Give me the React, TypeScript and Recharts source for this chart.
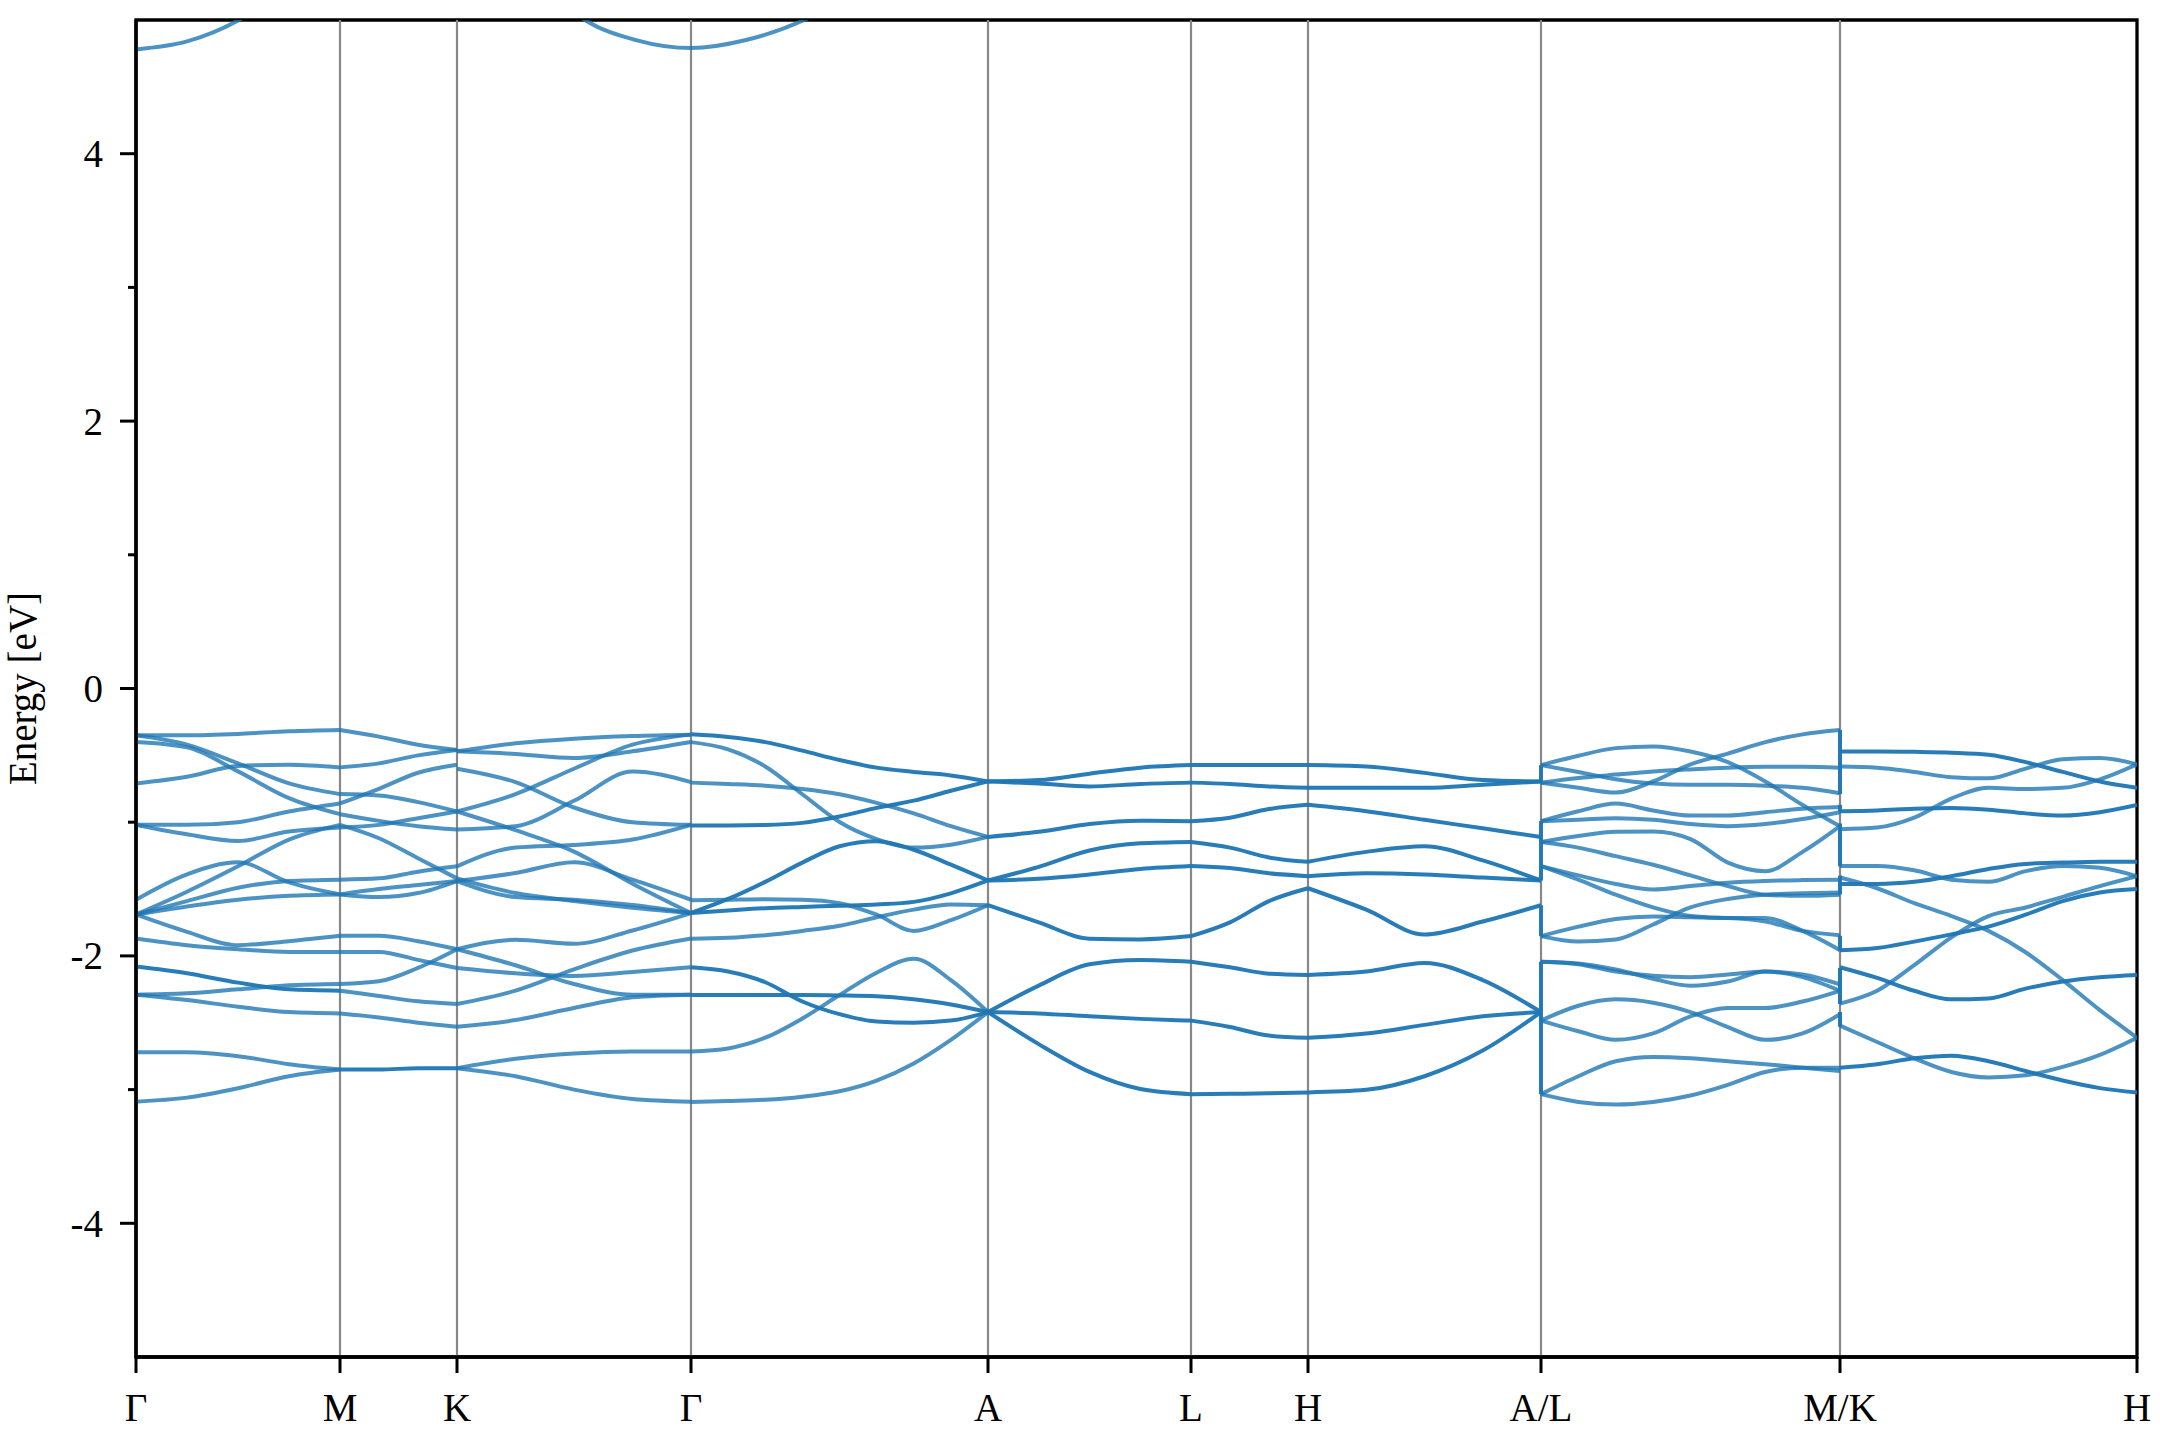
import React from 'react';
import { LineChart, Line, XAxis, YAxis, ReferenceLine, ReferenceArea } from 'recharts';

// high-symmetry points along the path (k distance) and their labels
const kTicks = [0, 0.204, 0.321, 0.555, 0.852, 1.055, 1.172, 1.405, 1.704, 2.001];
const kLabels = ['Γ', 'M', 'K', 'Γ', 'A', 'L', 'H', 'A/L', 'M/K', 'H'];
const energyTicks = [-4, -3, -2, -1, 0, 1, 2, 3, 4];

type Band = { n: number; e: number[] };

// each section: bands sampled at evenly spaced k between two high-symmetry points
// n = degeneracy (overlapping bands)
const gammaM: Band[] = [
  { n: 1, e: [-0.35, -0.35, -0.34, -0.32, -0.31] },
  { n: 1, e: [-0.35, -0.42, -0.56, -0.71, -0.79] },
  { n: 1, e: [-0.40, -0.44, -0.62, -0.82, -0.94] },
  { n: 1, e: [-0.71, -0.66, -0.58, -0.57, -0.59] },
  { n: 1, e: [-1.02, -1.02, -1.0, -0.92, -0.86] },
  { n: 1, e: [-1.02, -1.09, -1.14, -1.07, -1.04] },
  { n: 1, e: [-1.69, -1.52, -1.33, -1.13, -1.02] },
  { n: 1, e: [-1.58, -1.39, -1.30, -1.45, -1.54] },
  { n: 1, e: [-1.69, -1.59, -1.49, -1.44, -1.43] },
  { n: 1, e: [-1.69, -1.63, -1.58, -1.55, -1.54] },
  { n: 1, e: [-1.69, -1.82, -1.92, -1.89, -1.85] },
  { n: 1, e: [-1.87, -1.92, -1.95, -1.97, -1.97] },
  { n: 2, e: [-2.08, -2.13, -2.2, -2.25, -2.26] },
  { n: 1, e: [-2.29, -2.28, -2.25, -2.22, -2.21] },
  { n: 1, e: [-2.29, -2.33, -2.38, -2.42, -2.43] },
  { n: 1, e: [-2.72, -2.72, -2.75, -2.81, -2.85] },
  { n: 1, e: [-3.09, -3.06, -2.99, -2.9, -2.85] },
];

const mK: Band[] = [
  { n: 1, e: [-0.31, -0.36, -0.42, -0.46] },
  { n: 1, e: [-0.59, -0.56, -0.5, -0.46] },
  { n: 1, e: [-0.79, -0.8, -0.85, -0.92] },
  { n: 1, e: [-0.86, -0.75, -0.63, -0.57] },
  { n: 1, e: [-0.94, -0.99, -1.03, -1.055] },
  { n: 1, e: [-1.04, -1.02, -0.97, -0.92] },
  { n: 1, e: [-1.02, -1.12, -1.27, -1.42] },
  { n: 1, e: [-1.43, -1.42, -1.37, -1.33] },
  { n: 1, e: [-1.54, -1.56, -1.53, -1.44] },
  { n: 1, e: [-1.54, -1.5, -1.47, -1.44] },
  { n: 1, e: [-1.85, -1.85, -1.89, -1.95] },
  { n: 1, e: [-2.21, -2.19, -2.09, -1.95] },
  { n: 1, e: [-1.97, -1.97, -2.03, -2.09] },
  { n: 1, e: [-2.26, -2.3, -2.34, -2.36] },
  { n: 1, e: [-2.43, -2.46, -2.5, -2.53] },
  { n: 2, e: [-2.85, -2.85, -2.84, -2.84] },
];

const kGamma: Band[] = [
  { n: 1, e: [-0.47, -0.41, -0.375, -0.355, -0.345] },
  { n: 1, e: [-0.47, -0.49, -0.52, -0.47, -0.4] },
  { n: 1, e: [-0.92, -0.79, -0.6, -0.42, -0.345] },
  { n: 1, e: [-0.6, -0.7, -0.89, -1.0, -1.02] },
  { n: 1, e: [-1.055, -1.03, -0.84, -0.62, -0.7] },
  { n: 1, e: [-1.33, -1.19, -1.17, -1.13, -1.02] },
  { n: 1, e: [-0.92, -1.06, -1.22, -1.46, -1.68] },
  { n: 1, e: [-1.42, -1.53, -1.59, -1.64, -1.68] },
  { n: 1, e: [-1.44, -1.38, -1.3, -1.43, -1.58] },
  { n: 1, e: [-1.44, -1.56, -1.58, -1.62, -1.68] },
  { n: 1, e: [-1.95, -1.88, -1.91, -1.81, -1.68] },
  { n: 1, e: [-1.95, -2.07, -2.21, -2.29, -2.29] },
  { n: 1, e: [-2.09, -2.13, -2.15, -2.12, -2.085] },
  { n: 1, e: [-2.36, -2.26, -2.1, -1.96, -1.87] },
  { n: 1, e: [-2.53, -2.48, -2.39, -2.31, -2.29] },
  { n: 1, e: [-2.84, -2.77, -2.73, -2.715, -2.715] },
  { n: 1, e: [-2.84, -2.9, -3.0, -3.07, -3.09] },
];

const gammaA: Band[] = [
  { n: 2, e: [-0.343, -0.362, -0.401, -0.465, -0.535, -0.592, -0.624, -0.65, -0.695] },
  { n: 1, e: [-0.401, -0.455, -0.583, -0.791, -0.998, -1.126, -1.19, -1.168, -1.11] },
  { n: 1, e: [-0.704, -0.714, -0.727, -0.752, -0.791, -0.855, -0.934, -1.03, -1.11] },
  { n: 2, e: [-1.024, -1.024, -1.021, -1.005, -0.957, -0.893, -0.839, -0.765, -0.695] },
  { n: 2, e: [-1.679, -1.574, -1.446, -1.302, -1.18, -1.142, -1.206, -1.318, -1.436] },
  { n: 2, e: [-1.679, -1.66, -1.644, -1.634, -1.625, -1.615, -1.596, -1.532, -1.436] },
  { n: 1, e: [-1.583, -1.58, -1.577, -1.58, -1.606, -1.692, -1.813, -1.733, -1.621] },
  { n: 1, e: [-1.871, -1.865, -1.845, -1.813, -1.775, -1.711, -1.654, -1.615, -1.621] },
  { n: 2, e: [-2.085, -2.117, -2.197, -2.341, -2.436, -2.491, -2.5, -2.484, -2.42] },
  { n: 2, e: [-2.293, -2.293, -2.293, -2.293, -2.296, -2.302, -2.325, -2.363, -2.42] },
  { n: 1, e: [-2.715, -2.692, -2.612, -2.468, -2.293, -2.126, -2.021, -2.181, -2.42] },
  { n: 1, e: [-3.092, -3.085, -3.076, -3.053, -3.012, -2.932, -2.804, -2.628, -2.42] },
];

const aL: Band[] = [
  { n: 2, e: [-0.695, -0.685, -0.637, -0.592, -0.573] },
  { n: 2, e: [-0.695, -0.711, -0.733, -0.714, -0.704] },
  { n: 2, e: [-1.11, -1.072, -1.014, -0.989, -0.992] },
  { n: 2, e: [-1.436, -1.334, -1.212, -1.158, -1.148] },
  { n: 2, e: [-1.436, -1.423, -1.391, -1.35, -1.328] },
  { n: 2, e: [-1.621, -1.749, -1.871, -1.877, -1.852] },
  { n: 2, e: [-2.42, -2.222, -2.063, -2.031, -2.043] },
  { n: 2, e: [-2.42, -2.43, -2.452, -2.471, -2.484] },
  { n: 2, e: [-2.42, -2.66, -2.868, -2.996, -3.034] },
];

const lH: Band[] = [
  { n: 2, e: [-0.573, -0.573, -0.573, -0.573] },
  { n: 2, e: [-0.704, -0.714, -0.733, -0.743] },
  { n: 2, e: [-0.992, -0.966, -0.902, -0.87] },
  { n: 2, e: [-1.148, -1.19, -1.264, -1.296] },
  { n: 2, e: [-1.328, -1.343, -1.382, -1.404] },
  { n: 2, e: [-1.852, -1.749, -1.59, -1.494] },
  { n: 2, e: [-2.043, -2.085, -2.133, -2.142] },
  { n: 2, e: [-2.484, -2.532, -2.596, -2.612] },
  { n: 2, e: [-3.034, -3.031, -3.028, -3.021] },
];

const hA: Band[] = [
  { n: 2, e: [-0.573, -0.583, -0.631, -0.685, -0.695] },
  { n: 2, e: [-0.743, -0.743, -0.743, -0.72, -0.695] },
  { n: 2, e: [-0.87, -0.918, -0.982, -1.046, -1.11] },
  { n: 2, e: [-1.296, -1.222, -1.18, -1.286, -1.436] },
  { n: 2, e: [-1.404, -1.382, -1.391, -1.414, -1.436] },
  { n: 2, e: [-1.494, -1.654, -1.84, -1.743, -1.621] },
  { n: 2, e: [-2.142, -2.117, -2.053, -2.181, -2.42] },
  { n: 2, e: [-2.612, -2.58, -2.516, -2.452, -2.42] },
  { n: 2, e: [-3.021, -3.002, -2.9, -2.708, -2.42] },
];

const lM: Band[] = [
  { n: 1, e: [-0.573, -0.503, -0.446, -0.433, -0.471, -0.551, -0.695, -0.871, -1.03] },
  { n: 1, e: [-0.704, -0.743, -0.778, -0.695, -0.567, -0.487, -0.401, -0.343, -0.311] },
  { n: 1, e: [-0.573, -0.624, -0.679, -0.711, -0.72, -0.72, -0.727, -0.743, -0.784] },
  { n: 1, e: [-0.704, -0.669, -0.644, -0.621, -0.605, -0.592, -0.586, -0.586, -0.592] },
  { n: 1, e: [-0.992, -0.918, -0.861, -0.912, -0.95, -0.95, -0.925, -0.899, -0.886] },
  { n: 1, e: [-0.992, -0.982, -0.97, -0.982, -1.014, -1.03, -1.014, -0.976, -0.925] },
  { n: 1, e: [-1.148, -1.104, -1.072, -1.069, -1.126, -1.302, -1.366, -1.222, -1.03] },
  { n: 1, e: [-1.148, -1.19, -1.254, -1.318, -1.398, -1.478, -1.542, -1.551, -1.542] },
  { n: 1, e: [-1.328, -1.398, -1.462, -1.503, -1.478, -1.452, -1.439, -1.433, -1.43] },
  { n: 1, e: [-1.328, -1.43, -1.542, -1.637, -1.701, -1.717, -1.717, -1.813, -1.957] },
  { n: 1, e: [-1.852, -1.781, -1.724, -1.705, -1.711, -1.717, -1.743, -1.813, -1.845] },
  { n: 1, e: [-1.852, -1.893, -1.877, -1.765, -1.637, -1.574, -1.542, -1.532, -1.526] },
  { n: 1, e: [-2.043, -2.056, -2.101, -2.171, -2.223, -2.191, -2.117, -2.159, -2.261] },
  { n: 1, e: [-2.043, -2.062, -2.117, -2.149, -2.159, -2.139, -2.117, -2.139, -2.213] },
  { n: 1, e: [-2.484, -2.373, -2.325, -2.35, -2.42, -2.532, -2.628, -2.58, -2.437] },
  { n: 1, e: [-2.484, -2.564, -2.628, -2.58, -2.452, -2.389, -2.389, -2.341, -2.261] },
  { n: 1, e: [-3.034, -2.9, -2.788, -2.756, -2.766, -2.788, -2.81, -2.836, -2.861] },
  { n: 1, e: [-3.034, -3.092, -3.111, -3.092, -3.044, -2.964, -2.868, -2.836, -2.836] },
];

const kH: Band[] = [
  { n: 2, e: [-0.471, -0.471, -0.474, -0.48, -0.496, -0.551, -0.624, -0.695, -0.743] },
  { n: 1, e: [-0.583, -0.592, -0.624, -0.663, -0.672, -0.599, -0.529, -0.519, -0.567] },
  { n: 1, e: [-1.052, -1.04, -0.966, -0.823, -0.743, -0.752, -0.743, -0.679, -0.567] },
  { n: 2, e: [-0.918, -0.912, -0.899, -0.893, -0.906, -0.934, -0.95, -0.925, -0.871] },
  { n: 1, e: [-1.328, -1.328, -1.36, -1.43, -1.446, -1.366, -1.328, -1.34, -1.404] },
  { n: 2, e: [-1.462, -1.462, -1.446, -1.404, -1.35, -1.312, -1.302, -1.296, -1.296] },
  { n: 1, e: [-1.414, -1.494, -1.606, -1.702, -1.813, -1.973, -2.181, -2.405, -2.612] },
  { n: 1, e: [-2.357, -2.261, -2.069, -1.861, -1.702, -1.638, -1.558, -1.478, -1.404] },
  { n: 2, e: [-1.957, -1.941, -1.893, -1.839, -1.781, -1.692, -1.59, -1.526, -1.5] },
  { n: 2, e: [-2.085, -2.165, -2.261, -2.325, -2.318, -2.245, -2.191, -2.159, -2.142] },
  { n: 1, e: [-2.522, -2.644, -2.766, -2.868, -2.909, -2.893, -2.83, -2.74, -2.612] },
  { n: 2, e: [-2.836, -2.81, -2.766, -2.747, -2.788, -2.861, -2.932, -2.989, -3.021] },
];

// band jumps at the path discontinuities A|L and M|K
const jumpsAL = [[-0.573, -0.695], [-0.992, -1.436], [-1.621, -1.852], [-2.043, -3.034]];
const jumpsMK = [[-0.31, -0.79], [-0.87, -0.92], [-1.01, -1.33], [-1.4, -1.54], [-1.85, -1.96], [-2.09, -2.36], [-2.42, -2.53]];

// lowest conduction band, leaves the window at 5 eV
const condK1 = [0, 0.051, 0.103, 0.15];
const condE1 = [4.78, 4.84, 5.0, 5.24];
const condK2 = [0.4, 0.449, 0.5, 0.555, 0.61, 0.668, 0.72];
const condE2 = [5.32, 5.0, 4.85, 4.79, 4.85, 5.0, 5.22];

const sections: Band[][] = [gammaM, mK, kGamma, gammaA, aL, lH, hA, lM, kH];

const FONT = '"Liberation Serif", "Times New Roman", serif';
const BLUE = '#1f77b4';

type Pt = { k: number; e: number };
type Series = { id: string; data: Pt[]; n: number; curve: 'monotone' | 'linear' };

const series: Series[] = [];
sections.forEach((bands, s) => {
  const k0 = kTicks[s];
  const k1 = kTicks[s + 1];
  bands.forEach((b, i) => {
    const last = b.e.length - 1;
    series.push({
      id: `s${s}b${i}`,
      n: b.n,
      curve: 'monotone',
      data: b.e.map((e, j) => ({ k: k0 + ((k1 - k0) * j) / last, e })),
    });
  });
});
jumpsAL.forEach((p, i) =>
  series.push({ id: `jal${i}`, n: 2, curve: 'linear', data: p.map((e) => ({ k: kTicks[7], e })) })
);
jumpsMK.forEach((p, i) =>
  series.push({ id: `jmk${i}`, n: 2, curve: 'linear', data: p.map((e) => ({ k: kTicks[8], e })) })
);
series.push({ id: 'cb1', n: 1, curve: 'monotone', data: condK1.map((k, j) => ({ k, e: condE1[j] })) });
series.push({ id: 'cb2', n: 1, curve: 'monotone', data: condK2.map((k, j) => ({ k, e: condE2[j] })) });

const EnergyTick = (props: any) => {
  const { x, y, payload } = props;
  const v = payload.value as number;
  const major = v % 2 === 0;
  const edge = x + 33;
  return (
    <g>
      <line x1={edge} x2={edge - (major ? 16 : 8)} y1={y} y2={y} stroke="#000" strokeWidth={3} />
      {major && (
        <text x={x} y={y} textAnchor="end" dominantBaseline="central" fontFamily={FONT} fontSize={39} fill="#000">
          {String(v)}
        </text>
      )}
    </g>
  );
};

const EnergyLabel = (props: any) => {
  const vb = props.viewBox || { x: 0, y: 0, height: 0 };
  const cx = vb.x + 22;
  const cy = vb.y + vb.height / 2;
  return (
    <text
      x={cx}
      y={cy}
      transform={`rotate(-90, ${cx}, ${cy})`}
      textAnchor="middle"
      dominantBaseline="central"
      fontFamily={FONT}
      fontSize={39}
      fill="#000"
    >
      Energy [eV]
    </text>
  );
};

export default function App() {
  const kMax = kTicks[kTicks.length - 1];
  return (
    <div style={{ position: 'absolute', left: 0, top: 0, width: 2160, height: 1440, background: '#fff' }}>
      <LineChart width={2160} height={1440} margin={{ top: 20, right: 23, bottom: 0, left: 0 }}>
        <XAxis
          type="number"
          dataKey="k"
          domain={[0, kMax]}
          ticks={kTicks}
          interval={0}
          allowDataOverflow
          tickFormatter={(v: number) => kLabels[kTicks.indexOf(v)] ?? ''}
          height={83}
          tickSize={16}
          tickMargin={20}
          axisLine={{ stroke: '#000', strokeWidth: 3.3 }}
          tickLine={{ stroke: '#000', strokeWidth: 3 }}
          tick={{ fill: '#000', fontSize: 39, fontFamily: FONT }}
        />
        <YAxis
          type="number"
          dataKey="e"
          domain={[-5, 5]}
          ticks={energyTicks}
          interval={0}
          allowDataOverflow
          width={136}
          tickSize={16}
          tickMargin={17}
          tickLine={false}
          axisLine={{ stroke: '#000', strokeWidth: 3.3 }}
          tick={<EnergyTick />}
          label={{ content: <EnergyLabel /> }}
        />
        {kTicks.slice(1, -1).map((k, i) => (
          <ReferenceLine key={`v${i}`} x={k} stroke="#888" strokeWidth={2.2} />
        ))}
        {series.map((s) => (
          <Line
            key={s.id}
            data={s.data}
            dataKey="e"
            type={s.curve}
            stroke={BLUE}
            strokeOpacity={1 - Math.pow(0.2, s.n)}
            strokeWidth={4}
            dot={false}
            activeDot={false}
            legendType="none"
            isAnimationActive={false}
          />
        ))}
        <ReferenceArea x1={0} x2={kMax} y1={-5} y2={5} fill="none" stroke="#000" strokeWidth={3.3} />
      </LineChart>
    </div>
  );
}
